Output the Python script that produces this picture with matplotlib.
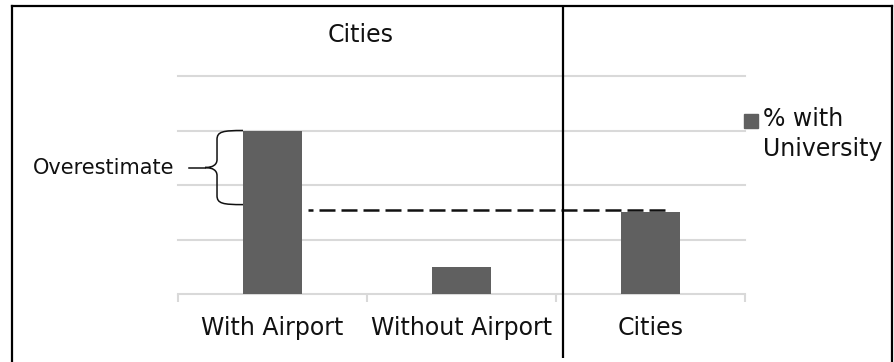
import matplotlib
matplotlib.use("Agg")
import matplotlib.pyplot as plt
from matplotlib.patches import Rectangle, PathPatch
from matplotlib.path import Path
from matplotlib.lines import Line2D

# Share of places with a university
categories = ["With Airport", "Without Airport", "Cities"]
pct_with_university = [0.60, 0.10, 0.30]
y_gridlines = [0.2, 0.4, 0.6, 0.8]
legend_label = "% with\nUniversity"
title_text = "Cities"
brace_label = "Overestimate"

BAR_COLOR = "#606060"
GRID_COLOR = "#d9d9d9"
W, H = 895, 362

fig = plt.figure(figsize=(W / 100, H / 100), dpi=100)
fig.patch.set_facecolor("white")


def fx(x):
    return x / W


def fy(y):
    return 1 - y / H


# plot area
ax = fig.add_axes([fx(178), fy(294), fx(745) - fx(178), (294 - 76) / H])
ax.set_facecolor("none")
xs = list(range(len(categories)))
bar_width = 0.312
ax.bar(xs, pct_with_university, width=bar_width, color=BAR_COLOR, zorder=3)
ax.set_xlim(-0.5, len(categories) - 0.5)
ax.set_ylim(0, 0.8)

for g in y_gridlines:
    ax.axhline(g, color=GRID_COLOR, lw=1.5, zorder=1, clip_on=False)

for side in ["top", "right", "left"]:
    ax.spines[side].set_visible(False)
ax.spines["bottom"].set_color(GRID_COLOR)
ax.spines["bottom"].set_linewidth(1.5)
ax.set_yticks([])
ax.set_xticks(xs)
ax.set_xticklabels(categories, fontsize=17, color="#111111")
ax.tick_params(axis="x", which="major", length=0, pad=16)
ax.set_xticks([i - 0.5 for i in range(len(categories) + 1)], minor=True)
ax.tick_params(axis="x", which="minor", length=6, width=1.5, color=GRID_COLOR)

# dashed reference line at the overall city level
ref = pct_with_university[2]
ax.plot([xs[0] + bar_width / 2 + 0.03, xs[2] + 0.082], [ref + 0.007, ref + 0.007],
        color="#111111", lw=1.8, linestyle=(4.4, (6.4, 2.4)), zorder=4,
        solid_capstyle="butt", dash_capstyle="butt")

# curly brace marking the gap between the airport cities and all cities
fig.canvas.draw()
x0, ytop = ax.transData.transform((xs[0] - bar_width / 2, pct_with_university[0]))
_, ybot = ax.transData.transform((xs[0] - bar_width / 2, ref + 0.028))
ymid = (ytop + ybot) / 2
xv = x0 - 26
xt = x0 - 38
verts = [
    (x0, ytop),
    (x0 - 20, ytop), (xv, ytop - 1), (xv, ytop - 9),
    (xv, ymid + 8),
    (xv, ymid + 3), (xv - 4, ymid), (xt, ymid),
    (xv - 4, ymid), (xv, ymid - 3), (xv, ymid - 8),
    (xv, ybot + 9),
    (xv, ybot + 1), (x0 - 20, ybot), (x0, ybot),
]
codes = [Path.MOVETO,
         Path.CURVE4, Path.CURVE4, Path.CURVE4,
         Path.LINETO,
         Path.CURVE4, Path.CURVE4, Path.CURVE4,
         Path.CURVE4, Path.CURVE4, Path.CURVE4,
         Path.LINETO,
         Path.CURVE4, Path.CURVE4, Path.CURVE4]
brace = PathPatch(Path(verts, codes), transform=None, fill=False,
                  edgecolor="#111111", lw=1.1)
fig.add_artist(brace)
fig.add_artist(Line2D([xt, xt - 16], [ymid, ymid], transform=None,
                      color="#111111", lw=1.1))
fig.text((xt - 31) / W, ymid / H, brace_label, fontsize=15, color="#111111",
         ha="right", va="center")

# title
fig.text(fx(361), fy(35), title_text, fontsize=17, color="#111111",
         ha="center", va="center")

# legend key
fig.add_artist(Rectangle((fx(744), fy(128)), 14 / W, 14 / H,
                         transform=fig.transFigure, color=BAR_COLOR))
fig.text(fx(763), fy(107), legend_label, fontsize=17, color="#111111",
         ha="left", va="top", linespacing=1.32)

# outer frame and divider
frame_kw = dict(transform=fig.transFigure, color="black", lw=1.6,
                solid_capstyle="projecting")
fig.add_artist(Line2D([fx(12), fx(12)], [fy(6), fy(370)], **frame_kw))
fig.add_artist(Line2D([fx(12), fx(892.5)], [fy(6), fy(6)], **frame_kw))
fig.add_artist(Line2D([fx(892.5), fx(892.5)], [fy(6), fy(370)], **frame_kw))
fig.add_artist(Line2D([fx(563), fx(563)], [fy(6), fy(358)], transform=fig.transFigure,
                      color="black", lw=1.6, solid_capstyle="butt"))

fig.savefig("out.png", dpi=100, facecolor="white")
